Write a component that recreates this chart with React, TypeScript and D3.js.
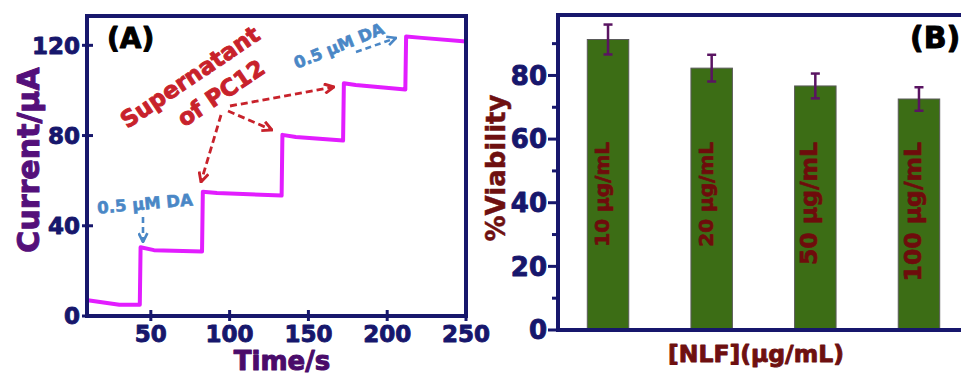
import React from "react";
import * as d3 from "d3";

// ---------- Panel A data ----------
const timeA = [10, 30, 43, 43.5, 52, 82.5, 83, 92, 133, 133.5, 142, 172, 172.5, 180, 211.5, 212, 222, 250];
const currentA = [7, 5, 5, 30.5, 29.2, 28.6, 55.1, 54.5, 53.4, 80.3, 79.4, 77.8, 103.2, 102.4, 100.4, 123.9, 123.3, 121.7];
const xTicksA = [50, 100, 150, 200, 250];
const yTicksA = [0, 40, 80, 120];

// ---------- Panel B data ----------
const concLabels = ["10 μg/mL", "20 μg/mL", "50 μg/mL", "100 μg/mL"];
const viability = [91.3, 82.3, 76.7, 72.6];
const viabilityErr = [4.7, 4.2, 3.9, 3.7];
const yTicksB = [0, 20, 40, 60, 80];
const yMinorB = [10, 30, 50, 70, 90];
const labelSizes = [20, 20, 23.5, 23.5];

const FONT = "'DejaVu Sans', 'Liberation Sans', Arial, sans-serif";
const NAVY = "#17176c";

// heavier-looking bold text: fill + thin outline of the same colour
const heavy = (color: string, w = 0.9) => ({ fill: color, stroke: color, strokeWidth: w, strokeLinejoin: "round" as const });

export default function App() {
  // Panel A scales
  const xA = d3.scaleLinear().domain([9.5, 250]).range([87, 466]);
  const yA = d3.scaleLinear().domain([0, 133]).range([316, 16]);
  const line = d3
    .line<number>()
    .x((_, i) => xA(timeA[i]))
    .y((d) => yA(d));

  // Panel B scales
  const xB = d3
    .scaleBand<string>()
    .domain(concLabels)
    .range([556.2, 970.8])
    .paddingInner(0.6)
    .paddingOuter(0.3);
  const yB = d3.scaleLinear().domain([0, 99]).range([330, 15]);
  const bw = xB.bandwidth();

  const red = "#c8222b";
  const blue = "#4a87c6";

  return (
    <svg
      width={961}
      height={376}
      style={{ position: "absolute", left: 0, top: 0, background: "#fff" }}
      fontFamily={FONT}
      fontWeight="bold"
    >
      <defs>
        <marker id="arrRed" viewBox="0 0 10 10" refX="9" refY="5" markerWidth="12" markerHeight="12" markerUnits="userSpaceOnUse" orient="auto">
          <path d="M1,1 L9,5 L1,9" fill="none" stroke={red} strokeWidth={2.4} />
        </marker>
        <marker id="arrBlue" viewBox="0 0 10 10" refX="9" refY="5" markerWidth="11" markerHeight="11" markerUnits="userSpaceOnUse" orient="auto">
          <path d="M1,1 L9,5 L1,9" fill="none" stroke={blue} strokeWidth={2.4} />
        </marker>
      </defs>

      {/* ================= Panel A ================= */}
      <path d={line(currentA) || ""} fill="none" stroke="#e21dff" strokeWidth={4} strokeLinejoin="round" />
      <rect x={87} y={16} width={379} height={300} fill="none" stroke={NAVY} strokeWidth={4} />
      {yTicksA.map((t) => (
        <g key={"ya" + t}>
          <line x1={82} x2={93} y1={yA(t)} y2={yA(t)} stroke={NAVY} strokeWidth={3} />
          <text x={80} y={yA(t)} dy="0.36em" textAnchor="end" fontSize={23} {...heavy(NAVY)}>
            {t}
          </text>
        </g>
      ))}
      {xTicksA.map((t) => (
        <g key={"xa" + t}>
          <line x1={xA(t)} x2={xA(t)} y1={310} y2={321} stroke={NAVY} strokeWidth={3} />
          <text x={xA(t)} y={342} textAnchor="middle" fontSize={23} {...heavy(NAVY)}>
            {t}
          </text>
        </g>
      ))}
      <text x={282} y={370} textAnchor="middle" fontSize={26} {...heavy("#4a0b6a", 1)}>
        Time/s
      </text>
      <text transform="translate(28,160) rotate(-90)" textAnchor="middle" dominantBaseline="central" fontSize={30} {...heavy("#54107a", 1)}>
        Current/μA
      </text>
      <text x={107} y={48} fontSize={28} {...heavy("#000", 1)}>
        (A)
      </text>

      {/* red annotation */}
      <text transform="translate(190,77) rotate(-34)" textAnchor="middle" dominantBaseline="central" fontSize={23} {...heavy(red, 0.9)}>
        Supernatant
      </text>
      <text transform="translate(221,93) rotate(-34)" textAnchor="middle" dominantBaseline="central" fontSize={23} {...heavy(red, 0.9)}>
        of PC12
      </text>
      <line x1={221} y1={115} x2={201} y2={182} stroke={red} strokeWidth={2.8} strokeDasharray="7,4" markerEnd="url(#arrRed)" />
      <line x1={228} y1={111} x2={272} y2={130} stroke={red} strokeWidth={2.8} strokeDasharray="7,4" markerEnd="url(#arrRed)" />
      <line x1={230} y1={106} x2={334} y2={87} stroke={red} strokeWidth={2.8} strokeDasharray="7,4" markerEnd="url(#arrRed)" />

      {/* blue annotations */}
      <text transform="translate(145,204) rotate(-5)" textAnchor="middle" dominantBaseline="central" fontSize={16.5} {...heavy(blue, 0.6)}>
        0.5 μM DA
      </text>
      <line x1={143} y1={217} x2={143} y2={242} stroke={blue} strokeWidth={2.6} strokeDasharray="6,4" markerEnd="url(#arrBlue)" />
      <text transform="translate(339,46) rotate(-22)" textAnchor="middle" dominantBaseline="central" fontSize={16.5} {...heavy(blue, 0.6)}>
        0.5 μM DA
      </text>
      <line x1={356} y1={52} x2={396} y2={38} stroke={blue} strokeWidth={2.6} strokeDasharray="6,4" markerEnd="url(#arrBlue)" />

      {/* ================= Panel B ================= */}
      {concLabels.map((c, i) => {
        const x0 = xB(c) as number;
        const cx = x0 + bw / 2;
        const v = viability[i];
        const e = viabilityErr[i];
        return (
          <g key={c}>
            <rect x={x0} y={yB(v)} width={bw} height={yB(0) - yB(v)} fill="#3c6d15" stroke="#5a5a5a" strokeWidth={1} />
            <line x1={cx} x2={cx} y1={yB(v + e)} y2={yB(v - e)} stroke="#5a1462" strokeWidth={2.5} />
            <line x1={cx - 4.5} x2={cx + 4.5} y1={yB(v + e)} y2={yB(v + e)} stroke="#5a1462" strokeWidth={2.5} />
            <line x1={cx - 4.5} x2={cx + 4.5} y1={yB(v - e)} y2={yB(v - e)} stroke="#5a1462" strokeWidth={2.5} />
            <text
              transform={`translate(${cx - 6},142) rotate(-90)`}
              textAnchor="end"
              dominantBaseline="central"
              fontSize={labelSizes[i]}
              {...heavy("#6e0c0c", 0.7)}
            >
              {c}
            </text>
          </g>
        );
      })}
      <path d="M990,15 L558,15 L558,330 L990,330" fill="none" stroke={NAVY} strokeWidth={4} />
      {yTicksB.map((t) => (
        <g key={"yb" + t}>
          <line x1={548} x2={558} y1={yB(t)} y2={yB(t)} stroke={NAVY} strokeWidth={3} />
          <text x={547} y={yB(t)} dy="0.36em" textAnchor="end" fontSize={26} {...heavy(NAVY)}>
            {t}
          </text>
        </g>
      ))}
      {yMinorB.map((t) => (
        <line key={"ybm" + t} x1={552} x2={558} y1={yB(t)} y2={yB(t)} stroke={NAVY} strokeWidth={3} />
      ))}
      <text transform="translate(496,168) rotate(-90)" textAnchor="middle" dominantBaseline="central" fontSize={26} {...heavy("#6e1010", 0.5)}>
        %Viability
      </text>
      <text x={756} y={362} textAnchor="middle" fontSize={23.5} {...heavy("#6e1010", 0.9)}>
        [NLF](μg/mL)
      </text>
      <text x={910} y={48} fontSize={30} {...heavy("#000", 1)}>
        (B)
      </text>
    </svg>
  );
}
